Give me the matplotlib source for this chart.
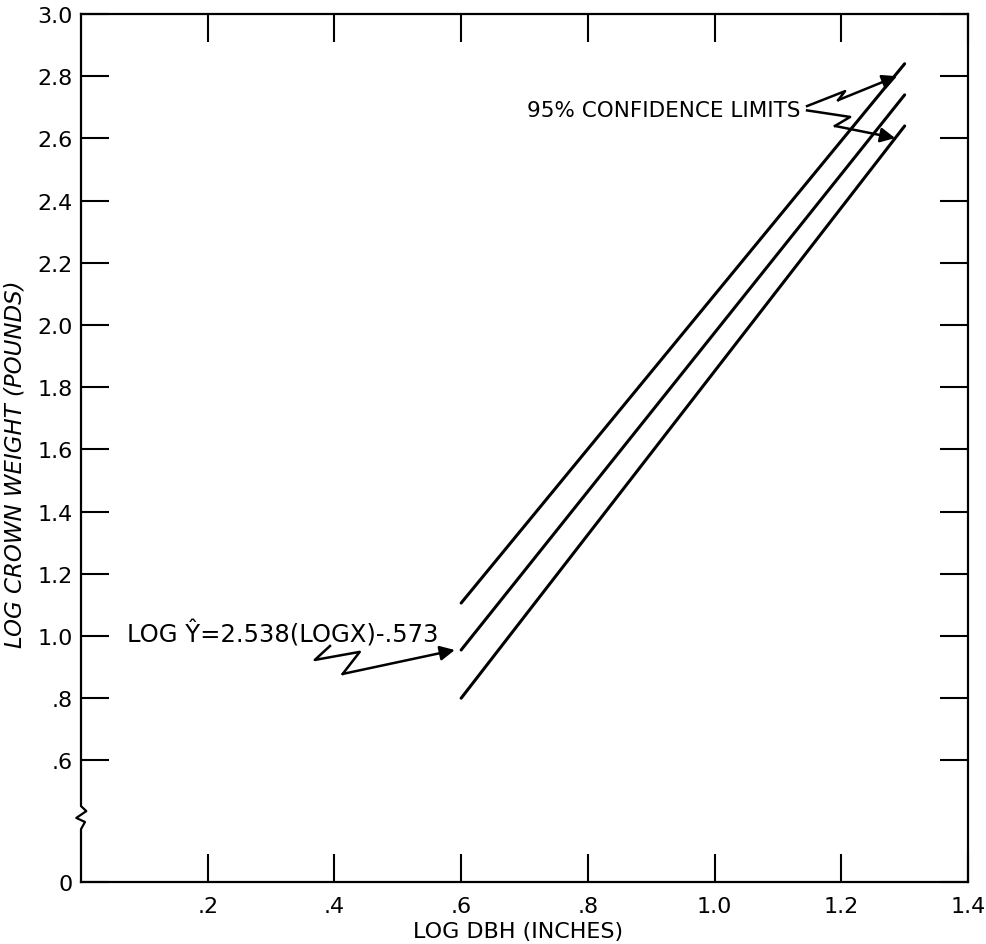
import matplotlib.pyplot as plt
from matplotlib.transforms import blended_transform_factory

# regression line and 95% confidence limits (log DBH vs log crown weight)
log_dbh = [0.6, 1.3]
upper_limit = [1.106, 2.84]
regression = [0.955, 2.74]
lower_limit = [0.80, 2.64]

x_ticks = [0.2, 0.4, 0.6, 0.8, 1.0, 1.2, 1.4]
x_tick_labels = ['.2', '.4', '.6', '.8', '1.0', '1.2', '1.4']
# broken axis: the "0" sits at the bottom of the frame, below the break
y_bottom = 0.209
y_ticks = [y_bottom, 0.6, 0.8, 1.0, 1.2, 1.4, 1.6, 1.8, 2.0, 2.2, 2.4, 2.6, 2.8, 3.0]
y_tick_labels = ['0', '.6', '.8', '1.0', '1.2', '1.4', '1.6', '1.8', '2.0',
                 '2.2', '2.4', '2.6', '2.8', '3.0']

plt.rcParams['font.family'] = ['DejaVu Sans']

fig = plt.figure(figsize=(9.86, 9.45), dpi=100)
ax = fig.add_axes([81 / 986, 1 - 883 / 945, 887 / 986, 868 / 945])

for ys in (upper_limit, regression, lower_limit):
    ax.plot(log_dbh, ys, color='black', lw=2.2, solid_capstyle='round')

ax.set_xlim(0, 1.4)
ax.set_ylim(y_bottom, 3.0)
ax.set_xticks(x_ticks)
ax.set_xticklabels(x_tick_labels)
ax.set_yticks(y_ticks)
ax.set_yticklabels(y_tick_labels)
ax.tick_params(direction='in', length=20, width=1.5, top=True, right=True,
               labelsize=16)
ax.tick_params(axis='x', pad=10)
ax.tick_params(axis='y', pad=6)

for side in ('top', 'right', 'bottom'):
    ax.spines[side].set_linewidth(1.6)
ax.spines['left'].set_visible(False)

# left spine with the break zigzag
trans = blended_transform_factory(ax.transAxes, ax.transData)
ax.plot([0, 0, 0.006, -0.0053, 0.0045, 0, 0],
        [3.0, 0.453, 0.437, 0.415, 0.402, 0.379, y_bottom],
        color='black', lw=1.6, transform=trans, clip_on=False)

ax.set_xlabel('LOG DBH (INCHES)', fontsize=16)
ax.xaxis.set_label_coords(0.493, -0.045)
ax.set_ylabel('LOG CROWN WEIGHT (POUNDS)', fontsize=16.5, style='italic')
ax.yaxis.set_label_coords(-0.062, 0.483)

ax.text(1.136, 2.672, '95% CONFIDENCE LIMITS', ha='right', va='baseline',
        fontsize=15.5)
ax.text(0.073, 0.981, 'LOG Ŷ=2.538(LOGX)-.573', ha='left',
        va='baseline', fontsize=17.5)

arrow = dict(arrowstyle='-|>', color='black', lw=1.8, mutation_scale=22,
             shrinkA=0, shrinkB=0)

# zigzag leaders to the upper and lower limits
ax.plot([1.146, 1.206, 1.195], [2.704, 2.752, 2.723], color='black', lw=1.8)
ax.annotate('', xy=(1.288, 2.800), xytext=(1.195, 2.723), arrowprops=arrow)
ax.plot([1.146, 1.214, 1.190], [2.690, 2.669, 2.640], color='black', lw=1.8)
ax.annotate('', xy=(1.285, 2.601), xytext=(1.190, 2.640), arrowprops=arrow)

# zigzag leader to the regression line
ax.plot([0.393, 0.369, 0.440, 0.413], [0.968, 0.923, 0.949, 0.878],
        color='black', lw=1.8)
ax.annotate('', xy=(0.590, 0.955), xytext=(0.413, 0.878), arrowprops=arrow)

fig.savefig('out.png', dpi=100, facecolor='white')
